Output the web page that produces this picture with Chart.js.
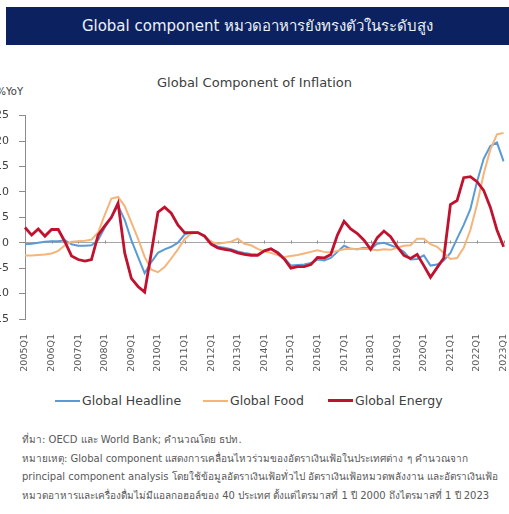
<!DOCTYPE html>
<html>
<head>
<meta charset="utf-8">
<script src="https://cdn.jsdelivr.net/npm/chart.js@4.4.1/dist/chart.umd.min.js"></script>
<style>
  html, body { margin: 0; padding: 0; background: #fff; width: 509px; height: 514px; overflow: hidden; position: relative;
    font-family: "DejaVu Sans", "Noto Sans", "Noto Sans CJK SC", sans-serif; }
  #banner { position: absolute; left: 6px; top: 7px; width: 503px; height: 38px; background: #0b2160;
    color: #eef1f8; font-size: 15px; line-height: 38px; text-align: center; white-space: nowrap; }
  #title { position: absolute; left: 0; width: 509px; top: 75px; text-align: center; font-size: 13px; color: #404040; }
  #unit { position: absolute; right: 486px; top: 86px; font-size: 10px; color: #404040; white-space: nowrap; }
  #wrap { position: absolute; left: -20px; top: 99px; width: 542px; height: 290px; }
  #legend { position: absolute; left: 0; top: 392px; width: 509px; height: 17px; font-size: 12.5px; color: #404040; }
  .item { position: absolute; top: 0; white-space: nowrap; line-height: 17px; }
  .swatch { display: inline-block; width: 25px; vertical-align: middle; margin-right: 2px; position: relative; top: -1px; }
  #notes { position: absolute; left: 22px; top: 431px; width: 487px; overflow: hidden; font-size: 10px; color: #595959;
    line-height: 18.5px; white-space: nowrap; }
</style>
</head>
<body>
<div id="banner">Global component หมวดอาหารยังทรงตัวในระดับสูง</div>
<div id="title">Global Component of Inflation</div>
<div id="unit">%YoY</div>
<div id="wrap"><canvas id="chart"></canvas></div>
<div id="legend"></div>
<div id="notes">
  <div>ที่มา: OECD และ World Bank; คำนวณโดย ธปท.</div>
  <div>หมายเหตุ: Global component แสดงการเคลื่อนไหวร่วมของอัตราเงินเฟ้อในประเทศต่าง ๆ คำนวณจาก</div>
  <div>principal component analysis โดยใช้ข้อมูลอัตราเงินเฟ้อทั่วไป อัตราเงินเฟ้อหมวดพลังงาน และอัตราเงินเฟ้อ</div>
  <div>หมวดอาหารและเครื่องดื่มไม่มีแอลกอฮอล์ของ 40 ประเทศ ตั้งแต่ไตรมาสที่ 1 ปี 2000 ถึงไตรมาสที่ 1 ปี 2023</div>
</div>
<script>
// Quarters 2005Q1 .. 2023Q1
const firstYear = 2005;
const lastYear = 2023;
const quarters = [];
for (let y = firstYear; y <= lastYear; y++) {
  for (let q = 1; q <= 4; q++) {
    if (y === lastYear && q > 1) break;
    quarters.push(y + 'Q' + q);
  }
}

// Global components, % YoY
const globalHeadline = [
  -0.3, -0.2, 0.0, 0.2, 0.3, 0.3, 0.5, -0.3, -0.6, -0.6, -0.5, 0.5,
  3.0, 5.0, 7.3, 4.5, 0.5, -2.8, -6.0, -3.8, -2.0, -1.3, -0.8, 0.0,
  1.6, 2.0, 2.0, 1.4, 0.0, -0.8, -1.0, -1.3, -1.7, -2.0, -2.2, -2.3,
  -1.6, -1.2, -1.8, -3.0, -4.5, -4.4, -4.3, -4.0, -3.3, -3.5, -3.0, -1.8,
  -0.6, -1.2, -1.3, -1.0, -1.2, -0.2, 0.0, -0.5, -1.0, -1.8, -3.3, -3.2,
  -2.5, -4.5, -4.3, -3.5, -2.0, 0.8, 3.5, 6.6, 12.0, 16.5, 19.0, 19.7,
  16.0
];
const globalFood = [
  -2.5, -2.5, -2.4, -2.3, -2.1, -1.6, -0.5, 0.2, 0.3, 0.4, 0.6, 2.0,
  5.5, 8.7, 9.0, 7.2, 4.0, 0.8, -2.8, -5.3, -5.8, -4.8, -3.1, -1.3,
  0.7, 1.8, 2.0, 1.2, 0.2, -0.2, 0.0, 0.2, 0.8, -0.2, -0.5, -1.2,
  -1.7, -2.0, -2.4, -2.8, -2.6, -2.4, -2.1, -1.8, -1.5, -1.8, -1.9, -1.6,
  -1.3, -1.2, -1.3, -1.2, -1.3, -1.5, -1.3, -1.4, -1.0, -0.6, -0.5, 0.8,
  0.8, -0.3, -0.8, -2.0, -3.2, -3.0, -1.0, 2.5, 7.5, 13.5, 18.3, 21.3,
  21.6
];
const globalEnergy = [
  3.0, 1.5, 2.7, 1.3, 2.6, 2.6, 0.2, -2.6, -3.3, -3.6, -3.3, 1.5,
  3.3, 5.0, 7.8, -2.0, -7.0, -8.6, -9.7, -2.0, 6.0, 7.0, 5.8, 3.5,
  2.0, 2.0, 2.0, 1.3, -0.3, -1.0, -1.3, -1.5, -2.0, -2.3, -2.5, -2.5,
  -1.6, -1.2, -2.0, -3.2, -5.0, -4.7, -4.7, -4.3, -2.9, -3.0, -2.3, 1.5,
  4.2, 2.7, 1.8, 0.5, -1.3, 1.0, 2.3, 1.2, -0.8, -2.5, -3.1, -2.3,
  -4.5, -6.8, -4.9, -3.0, 7.5, 8.3, 12.8, 13.0, 12.0, 10.3, 7.0, 2.5,
  -0.8
];

const yTicks = [-15, -10, -5, 0, 5, 10, 15, 20, 25];

const series = [
  { name: 'Global Headline', data: globalHeadline, color: '#5b9bd5', width: 2, order: 2 },
  { name: 'Global Food',     data: globalFood,     color: '#f5b47a', width: 2, order: 1 },
  { name: 'Global Energy',   data: globalEnergy,   color: '#c0122e', width: 2.8, order: 0 }
];

// Legend row
const legendPos = [55, 203, 328];
const legend = document.getElementById('legend');
series.forEach((s, k) => {
  const it = document.createElement('div');
  it.className = 'item';
  it.style.left = legendPos[k] + 'px';
  const sw = document.createElement('span');
  sw.className = 'swatch';
  sw.style.height = Math.round(s.width) + 'px';
  sw.style.background = s.color;
  it.appendChild(sw);
  it.appendChild(document.createTextNode(s.name));
  legend.appendChild(it);
});

// Small year marks along the zero line
const zeroMarks = {
  id: 'zeroMarks',
  beforeDatasetsDraw(chart) {
    const xs = chart.scales.x, ys = chart.scales.y, ctx = chart.ctx;
    const y0 = Math.round(ys.getPixelForValue(0)) + 0.5;
    ctx.save();
    ctx.strokeStyle = '#8c8c8c';
    ctx.lineWidth = 1;
    ctx.beginPath();
    quarters.forEach((q, i) => {
      if (i % 4 === 0) {
        const px = Math.round(xs.getPixelForValue(i)) + 0.5;
        ctx.moveTo(px, y0 - 3);
        ctx.lineTo(px, y0);
      }
    });
    ctx.stroke();
    ctx.restore();
  }
};

new Chart(document.getElementById('chart'), {
  type: 'line',
  data: {
    labels: quarters,
    datasets: series.map(s => ({
      label: s.name,
      data: s.data,
      borderColor: s.color,
      backgroundColor: s.color,
      borderWidth: s.width,
      pointRadius: 0,
      tension: 0,
      fill: false,
      order: s.order
    }))
  },
  options: {
    responsive: true,
    maintainAspectRatio: false,
    animation: false,
    layout: { padding: { top: 12, right: 9, left: 0, bottom: 0 } },
    plugins: { legend: { display: false }, tooltip: { enabled: false }, title: { display: false } },
    scales: {
      x: {
        type: 'category',
        offset: false,
        grid: { display: false },
        border: { display: false },
        afterFit(scale) { scale.height = 70; },
        ticks: {
          autoSkip: false,
          maxRotation: 90,
          minRotation: 90,
          padding: 7,
          color: '#595959',
          font: { family: 'DejaVu Sans', size: 9.5 },
          callback(v, i) { return i % 4 === 0 ? quarters[i] : ''; }
        }
      },
      y: {
        min: yTicks[0],
        max: yTicks[yTicks.length - 1],
        afterFit(scale) { scale.width = 45; },
        afterBuildTicks(scale) { scale.ticks = yTicks.map(v => ({ value: v })); },
        grid: {
          drawOnChartArea: true,
          drawTicks: true,
          tickLength: 6,
          color: ctx => (ctx.tick && ctx.tick.value === 0) ? '#a6a6a6' : 'rgba(0,0,0,0)',
          tickColor: '#8c8c8c'
        },
        border: { display: true, color: '#8c8c8c' },
        ticks: {
          padding: 10,
          color: '#404040',
          font: { family: 'DejaVu Sans', size: 11 }
        }
      }
    }
  },
  plugins: [zeroMarks]
});
</script>
</body>
</html>
